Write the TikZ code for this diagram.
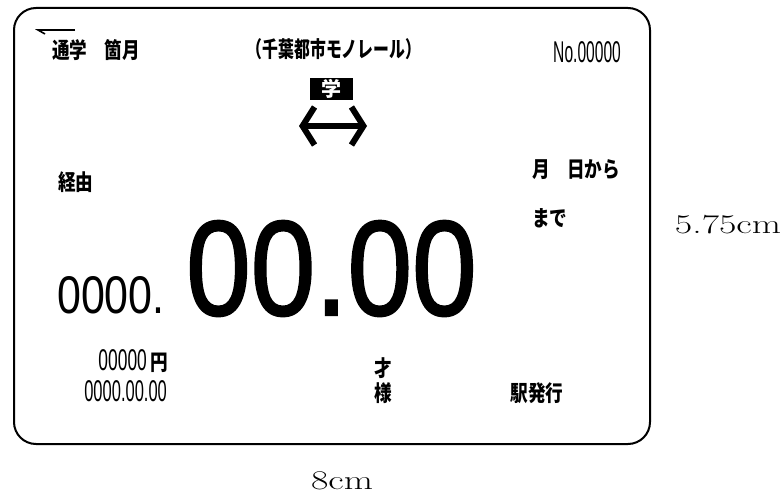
\documentclass[tikz,border=0pt]{standalone}
\usepackage{fontspec}
\newfontfamily\cjk{Noto Sans CJK JP}
\newfontfamily\nums{Liberation Sans}
\newfontfamily\numsbig{Liberation Sans}[FakeBold=1.6]
\usetikzlibrary{arrows.meta}

\begin{document}
\begin{tikzpicture}[x=1pt, y=-1pt,
    jp/.style={font=\cjk\bfseries\fontsize{22}{22}\selectfont, inner sep=0pt},
    num/.style={font=\nums\fontsize{30}{30}\selectfont, inner sep=0pt},
    dim/.style={font=\fontsize{27}{27}\selectfont, inner sep=0pt}]
        \useasboundingbox (0,0) rectangle (782,497);

        % the ticket
        \draw[line width=2pt, rounded corners=22pt] (14,8) rectangle (650,444);

        \coordinate (dirS) at (75,30);
        \coordinate (dirE) at (35,30);
        \draw[line width=1.6pt, -{Straight Barb[left, length=7pt, width=8pt]}] (dirS) -- (dirE);

        \node[jp, xscale=0.8, anchor=west] (kind) at (52,50) {通学　箇月};
        \node[jp, xscale=0.72] (line) at (334,49) {（千葉都市モノレール）};
        \node[num, xscale=0.52, anchor=east] (serial) at (621,52) {No.00000};

        \node[fill=black, minimum width=43pt, minimum height=22pt, inner sep=0pt,
              text=white, font=\cjk\bfseries\fontsize{20}{20}\selectfont] (gaku) at (331,89) {学};
        \coordinate (arL) at (299,126);
        \coordinate (arR) at (367,126);
        \draw[line width=6pt, {Straight Barb[length=12pt, width=38pt]}-{Straight Barb[length=12pt, width=38pt]}] (arL) -- (arR);

        \node[jp, xscale=0.8, anchor=west] (from) at (532,170) {月　日から};
        \node[jp, xscale=0.8, anchor=west] (until) at (532,218) {まで};
        \node[jp, xscale=0.8, anchor=west] (via) at (58,182) {経由};

        \node[num, font=\numsbig\fontsize{135}{135}\selectfont, xscale=0.86, anchor=base west] (fare) at (186,315) {00.00};
        \node[num, font=\nums\fontsize{53}{53}\selectfont, xscale=0.81, anchor=base west] (code) at (57,313) {0000.};

        \node[num, xscale=0.58, anchor=base east] (price) at (147,370) {00000};
        \node[jp, xscale=0.8, anchor=base west] (yen) at (150,370) {円};
        \node[num, xscale=0.55, anchor=base east] (date) at (167,401) {0000.00.00};

        \node[jp, xscale=0.8] (age) at (383,368) {才};
        \node[jp, xscale=0.8] (sama) at (383,393) {様};
        \node[jp, xscale=0.8] (issue) at (537,393) {駅発行};

        % sizes
        \node[dim, xscale=1.4] (height) at (728,225) {5.75cm};
        \node[dim, xscale=1.4] (width) at (342,481) {8cm};
      \end{tikzpicture}
\end{document}
